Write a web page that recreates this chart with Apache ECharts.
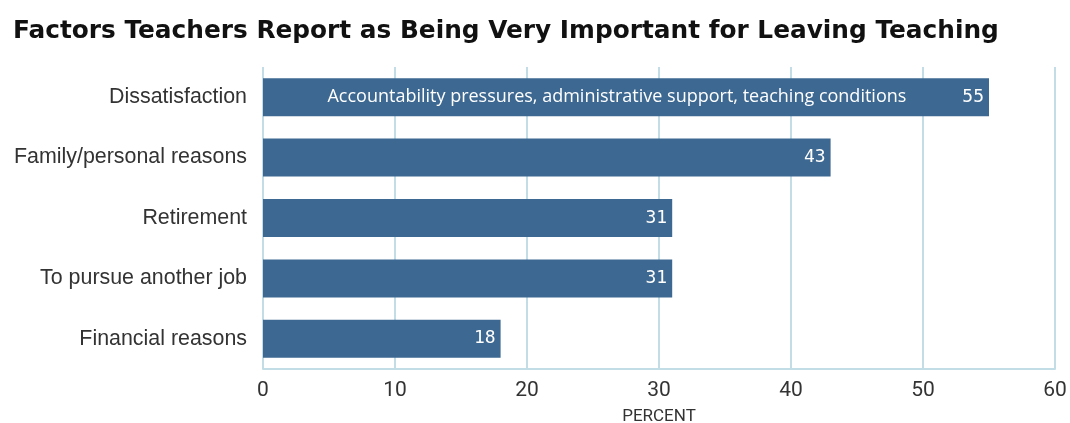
<!DOCTYPE html>
<html>
<head>
<meta charset="utf-8">
<script src="https://cdn.jsdelivr.net/npm/echarts@6/dist/echarts.min.js"></script>
<style>
  html, body { margin: 0; padding: 0; background: #fff; }
  #chart { width: 1070px; height: 423px; }
</style>
</head>
<body>
<div id="chart"></div>
<script>
// Reasons for leaving, listed top to bottom
const categories = [
  'Dissatisfaction',
  'Family/personal reasons',
  'Retirement',
  'To pursue another job',
  'Financial reasons'
];
// Percent of teachers rating each factor very important
const values = [55, 43, 31, 31, 18];
// Detail shown inside the first bar
const dissatisfactionNote = 'Accountability pressures, administrative support, teaching conditions';
const xTicks = [0, 10, 20, 30, 40, 50, 60];

const barColor = '#3d6891';
const gridColor = '#c3dde7';

const chart = echarts.init(document.getElementById('chart'));

const seriesData = values.map((v, i) => {
  const item = { value: v };
  if (i === 0) {
    item.label = {
      formatter: (p) => '{note|' + dissatisfactionNote + '}{num|' + p.value + '}',
      rich: {
        note: { color: '#ffffff', fontSize: 18, fontFamily: 'Open Sans', padding: [0, 56, 0, 0] },
        num: { color: '#ffffff', fontSize: 18, fontFamily: 'DejaVu Sans Mono' }
      }
    };
  }
  return item;
});

chart.setOption({
  animation: false,
  title: {
    text: 'Factors Teachers Report as Being Very Important for Leaving Teaching',
    left: 8,
    top: 14,
    textStyle: {
      fontFamily: 'DejaVu Sans',
      fontWeight: 'bold',
      fontSize: 24.8,
      color: '#111'
    }
  },
  grid: { left: 263, right: 15, top: 67, bottom: 54, outerBoundsMode: 'none', containLabel: false },
  xAxis: {
    type: 'value',
    min: xTicks[0],
    max: xTicks[xTicks.length - 1],
    interval: 10,
    name: 'PERCENT',
    nameLocation: 'middle',
    nameGap: 39,
    nameTextStyle: { fontFamily: 'Roboto', fontSize: 17, color: '#333' },
    axisLine: { show: true, lineStyle: { color: gridColor, width: 2 } },
    axisTick: { show: false },
    axisLabel: { margin: 11, fontFamily: 'Roboto', fontSize: 21, color: '#333' },
    splitLine: { show: true, lineStyle: { color: gridColor, width: 2 } }
  },
  yAxis: {
    type: 'category',
    data: categories,
    inverse: true,
    axisLine: { show: false },
    axisTick: { show: false },
    axisLabel: { margin: 16, fontFamily: 'Liberation Sans', fontSize: 21.4, color: '#333' }
  },
  series: [{
    type: 'bar',
    data: seriesData,
    barWidth: 38,
    itemStyle: { color: barColor },
    label: {
      show: true,
      position: 'insideRight',
      distance: 5,
      color: '#ffffff',
      fontSize: 18,
      fontFamily: 'DejaVu Sans Mono'
    }
  }]
});
</script>
</body>
</html>
